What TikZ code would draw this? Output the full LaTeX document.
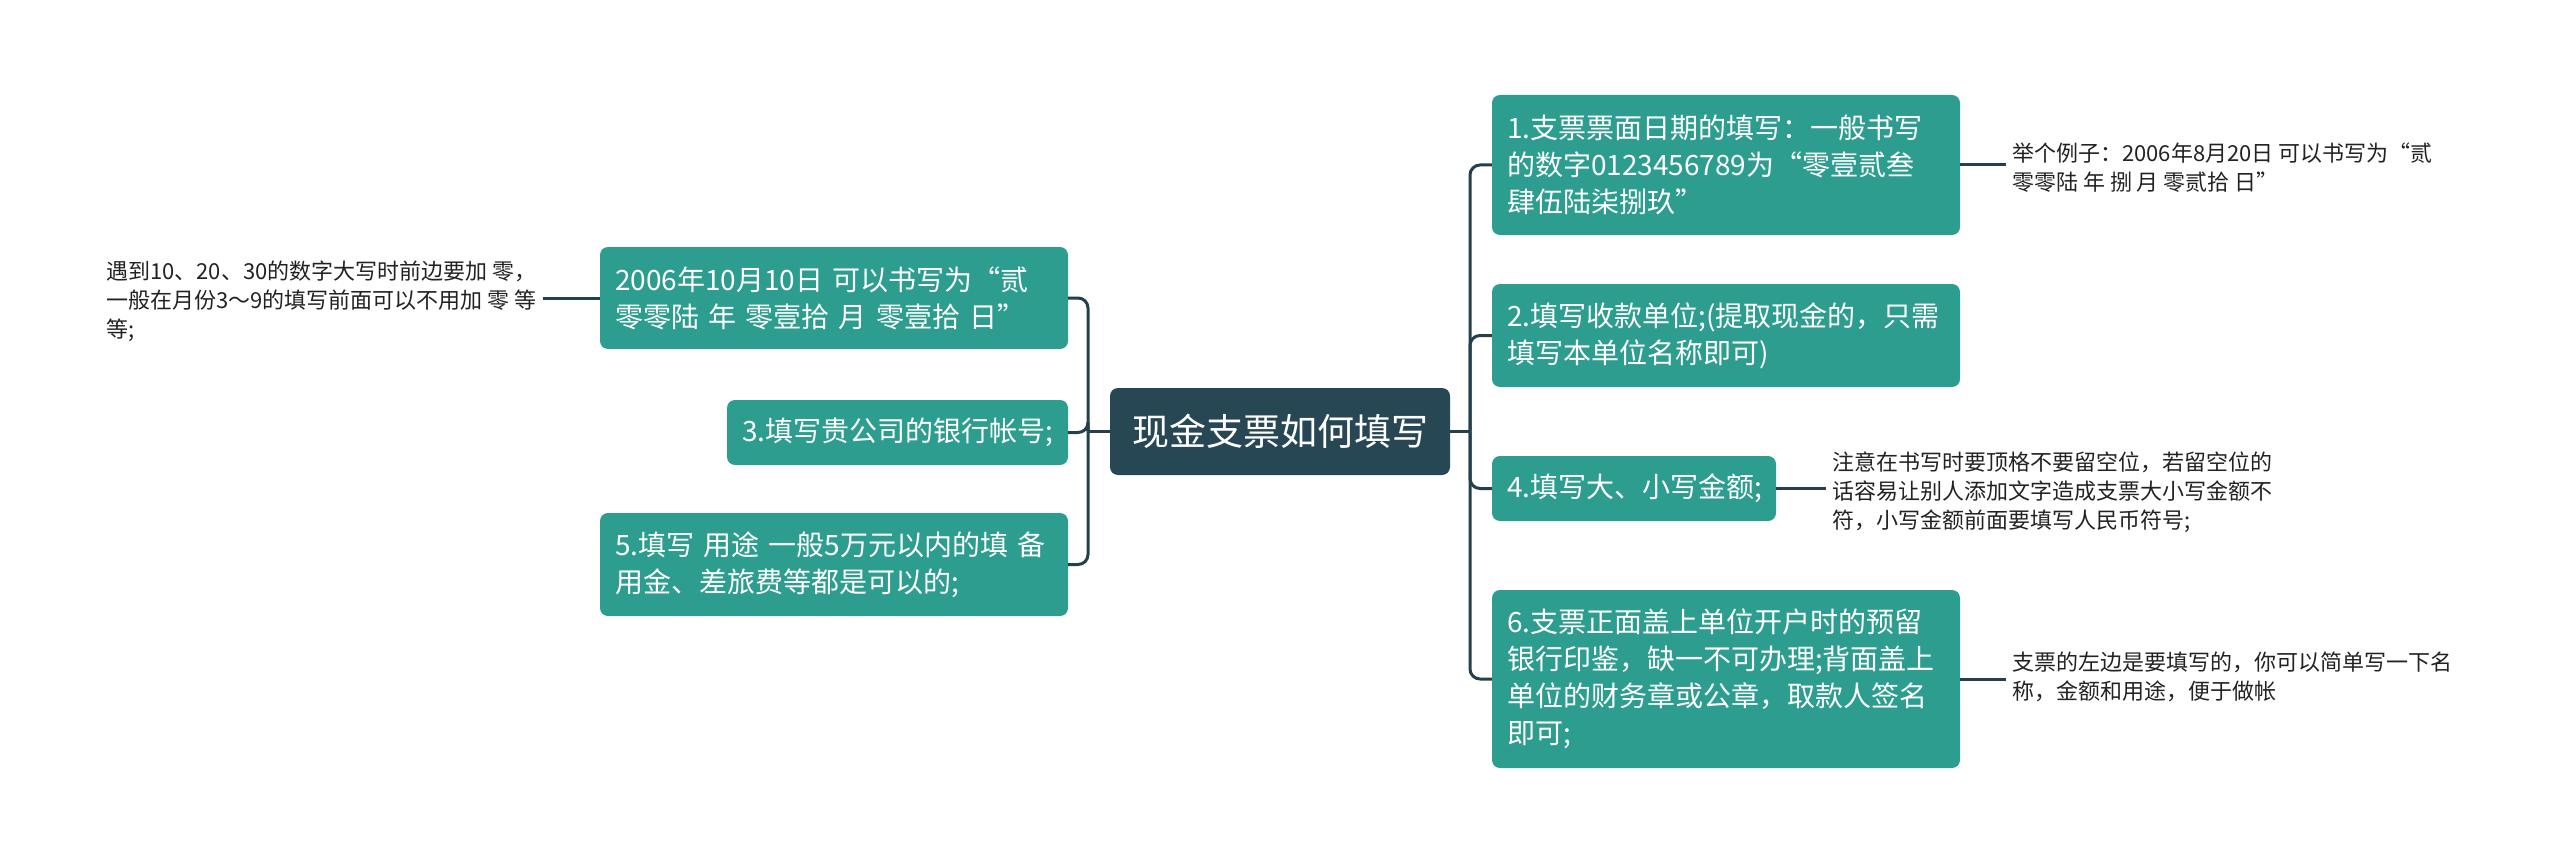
\documentclass[tikz,border=0pt]{standalone}
\usepackage{fontspec}
\setmainfont{Noto Sans CJK SC}
\definecolor{hubfill}{RGB}{40,71,84}
\definecolor{topicfill}{RGB}{44,157,142}
\definecolor{conncol}{RGB}{36,64,76}
\definecolor{leaftext}{RGB}{34,34,34}
\begin{document}
\begin{tikzpicture}[x=1pt,y=-1pt,
  hub/.style={fill=hubfill,text=white,rounded corners=8pt,inner sep=0pt,
    minimum width=340pt,minimum height=87pt,font=\fontsize{37}{44}\selectfont},
  topic/.style={fill=topicfill,text=white,rounded corners=8pt,inner xsep=15pt,inner ysep=4pt,
    align=left,font=\fontsize{28}{37}\selectfont},
  leaf/.style={text=leaftext,inner sep=6pt,align=left,font=\fontsize{22}{29}\selectfont},
  conn/.style={draw=conncol,line width=3pt},
  branchline/.style={conn,rounded corners=10pt}]
\useasboundingbox (0,0) rectangle (2560,864);

% central node
\node[hub] (c) at (1280,431.5) {现金支票如何填写};

% right topics
\node[topic,text width=438pt,minimum height=140pt] (n1) at (1726,165)
  {1.支票票面日期的填写：一般书写\\的数字0123456789为“零壹贰叁\\肆伍陆柒捌玖”};
\node[topic,text width=438pt,minimum height=103pt] (n2) at (1726,335.5)
  {2.填写收款单位;(提取现金的，只需\\填写本单位名称即可)};
\node[topic,text width=254pt,minimum height=65pt] (n4) at (1634,488.5)
  {4.填写大、小写金额;};
\node[topic,text width=438pt,minimum height=178pt] (n6) at (1726,679)
  {6.支票正面盖上单位开户时的预留\\银行印鉴，缺一不可办理;背面盖上\\单位的财务章或公章，取款人签名\\即可;};

% left topics
\node[topic,text width=438pt,minimum height=102pt] (nA) at (834,298)
  {2006年10月10日~可以书写为“贰\\零零陆~年~零壹拾~月~零壹拾~日”};
\node[topic,text width=311pt,minimum height=65pt] (n3) at (897.5,432.5)
  {3.填写贵公司的银行帐号;};
\node[topic,text width=438pt,minimum height=103pt] (n5) at (834,564.5)
  {5.填写~用途~一般5万元以内的填~备\\用金、差旅费等都是可以的;};

% leaves
\node[leaf,anchor=west] (l1) at (2006,167.5)
  {举个例子：2006年8月20日 可以书写为“贰\\零零陆 年 捌 月 零贰拾 日”};
\node[leaf,anchor=west] (l4) at (1826,492)
  {注意在书写时要顶格不要留空位，若留空位的\\话容易让别人添加文字造成支票大小写金额不\\符，小写金额前面要填写人民币符号;};
\node[leaf,anchor=west] (l6) at (2006,677)
  {支票的左边是要填写的，你可以简单写一下名\\称，金额和用途，便于做帐};
\node[leaf,anchor=west] (lA) at (100,301)
  {遇到10、20、30的数字大写时前边要加 零，\\一般在月份3～9的填写前面可以不用加 零 等\\等;};

% trunks
\coordinate (rt) at (1470,431.5);
\coordinate (lt) at (1088,431.5);
\draw[conn] (c.east) -- (rt);
\draw[conn] (c.west) -- (lt);
\draw[branchline] (rt) |- (n1.west);
\draw[branchline] (rt) |- (n2.west);
\draw[branchline] (rt) |- (n4.west);
\draw[branchline] (rt) |- (n6.west);
\draw[branchline] (lt) |- (nA.east);
\draw[branchline] (lt) |- (n3.east);
\draw[branchline] (lt) |- (n5.east);

% leaf connectors
\draw[conn] (n1.east) -- (n1.east -| l1.west);
\draw[conn] (n4.east) -- (n4.east -| l4.west);
\draw[conn] (n6.east) -- (n6.east -| l6.west);
\draw[conn] (nA.west) -- (nA.west -| lA.east);
\end{tikzpicture}
\end{document}
